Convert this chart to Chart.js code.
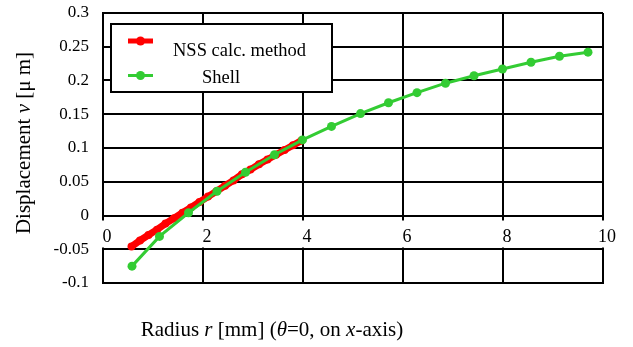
<!DOCTYPE html>
<html>
<head>
<meta charset="utf-8">
<script src="https://cdn.jsdelivr.net/npm/chart.js@4/dist/chart.umd.min.js"></script>
<style>
  body { margin: 0; background: #fff; }
  canvas { display: block; }
</style>
</head>
<body>
<canvas id="dispChart" width="633" height="347"></canvas>
<script>
// NSS calc. method (dense red curve)
const nssRadius = [0.57, 0.74, 0.91, 1.08, 1.25, 1.42, 1.59, 1.76, 1.93, 2.10, 2.27,
                   2.44, 2.61, 2.78, 2.95, 3.12, 3.29, 3.46, 3.63, 3.80, 3.97];
const nssDisp = [-0.046, -0.037, -0.029, -0.021, -0.012, -0.004, 0.004, 0.012, 0.020, 0.028, 0.036,
                 0.044, 0.052, 0.061, 0.068, 0.076, 0.083, 0.090, 0.097, 0.104, 0.111];

// Shell (green)
const shellRadius = [0.58, 1.13, 1.71, 2.28, 2.85, 3.43, 3.99, 4.57, 5.15, 5.71,
                     6.28, 6.85, 7.42, 7.99, 8.56, 9.13, 9.70];
const shellDisp = [-0.075, -0.031, 0.004, 0.036, 0.064, 0.090, 0.112, 0.132, 0.151, 0.167,
                   0.182, 0.196, 0.207, 0.217, 0.227, 0.236, 0.242];

const xTicks = [0, 2, 4, 6, 8, 10];
const legendLabels = ['NSS calc. method', 'Shell'];

const serif = '"Liberation Serif", "Times New Roman", serif';

function toPoints(xs, ys) {
  return xs.map((x, i) => ({ x: x, y: ys[i] }));
}

// x tick labels sit just under the y=0 line, with a white box behind
const xLabelPlugin = {
  id: 'xLabels',
  beforeDatasetsDraw(chart) {
    const ctx = chart.ctx;
    const xs = chart.scales.x, ys = chart.scales.y;
    const y0 = ys.getPixelForValue(0);
    ctx.save();
    ctx.font = '18px ' + serif;
    ctx.textAlign = 'center';
    ctx.textBaseline = 'middle';
    xTicks.forEach(v => {
      const px = xs.getPixelForValue(v) + 4;
      const txt = String(v);
      const w = ctx.measureText(txt).width;
      ctx.fillStyle = '#fff';
      ctx.fillRect(px - w / 2 - 2, y0 + 5, w + 4, 27);
      ctx.fillStyle = '#000';
      ctx.fillText(txt, px, y0 + 21.5);
    });
    ctx.restore();
  }
};

function drawRich(ctx, parts, size) {
  let total = 0;
  parts.forEach(p => {
    ctx.font = (p[1] ? 'italic ' : '') + size + 'px ' + serif;
    total += ctx.measureText(p[0]).width;
  });
  let x = -total / 2;
  parts.forEach(p => {
    ctx.font = (p[1] ? 'italic ' : '') + size + 'px ' + serif;
    ctx.fillText(p[0], x, 0);
    x += ctx.measureText(p[0]).width;
  });
}

// axis titles and legend box
const annotPlugin = {
  id: 'annot',
  afterDraw(chart) {
    const ctx = chart.ctx;
    ctx.save();
    ctx.fillStyle = '#000';
    ctx.textAlign = 'left';
    ctx.textBaseline = 'middle';

    ctx.save();
    ctx.translate(272, 330);
    drawRich(ctx, [['Radius ', false], ['r', true], [' [mm] (', false], ['θ', true],
                   ['=0, on ', false], ['x', true], ['-axis)', false]], 21);
    ctx.restore();

    ctx.save();
    ctx.translate(24, 143);
    ctx.rotate(-Math.PI / 2);
    drawRich(ctx, [['Displacement ', false], ['v', true], [' [μ m]', false]], 21);
    ctx.restore();

    // legend
    ctx.fillStyle = '#fff';
    ctx.fillRect(111, 24, 221, 68);
    ctx.strokeStyle = '#000';
    ctx.lineWidth = 2;
    ctx.strokeRect(111, 24, 221, 68);

    const rows = [
      { ds: chart.data.datasets[0], y: 41, ty: 51, tx: 173, lw: 5 },
      { ds: chart.data.datasets[1], y: 75.5, ty: 78, tx: 202, lw: 3 }
    ];
    rows.forEach((r, i) => {
      ctx.strokeStyle = r.ds.borderColor;
      ctx.lineWidth = r.lw;
      ctx.beginPath();
      ctx.moveTo(128, r.y);
      ctx.lineTo(153, r.y);
      ctx.stroke();
      ctx.fillStyle = r.ds.borderColor;
      ctx.beginPath();
      ctx.arc(140.5, r.y, 4.5, 0, Math.PI * 2);
      ctx.fill();
      ctx.fillStyle = '#000';
      ctx.font = '18.5px ' + serif;
      ctx.fillText(legendLabels[i], r.tx, r.ty);
    });
    ctx.restore();
  }
};

const ctx = document.getElementById('dispChart');
const dispChart = new Chart(ctx, {
  type: 'scatter',
  data: {
    datasets: [{
      label: legendLabels[0],
      data: toPoints(nssRadius, nssDisp),
      showLine: true,
      borderColor: '#ff0000',
      backgroundColor: '#ff0000',
      borderWidth: 7,
      pointRadius: 4,
      pointBorderWidth: 0,
      order: 1
    }, {
      label: legendLabels[1],
      data: toPoints(shellRadius, shellDisp),
      showLine: true,
      borderColor: '#33cc33',
      backgroundColor: '#33cc33',
      borderWidth: 3,
      pointRadius: 4.5,
      pointBorderWidth: 0,
      order: 0
    }]
  },
  options: {
    responsive: false,
    animation: false,
    layout: { padding: { left: 0, top: 13, right: 30, bottom: 64 } },
    plugins: {
      legend: { display: false },
      tooltip: { enabled: false }
    },
    scales: {
      x: {
        type: 'linear',
        min: 0,
        max: 10,
        ticks: { display: false, stepSize: 2 },
        grid: { color: '#000', lineWidth: 2, drawTicks: false },
        border: { color: '#000', width: 2 },
        afterFit(scale) { scale.height = 0; scale.paddingLeft = 0; scale.paddingRight = 0; }
      },
      y: {
        min: -0.1,
        max: 0.3,
        ticks: {
          stepSize: 0.05,
          color: '#000',
          padding: 14,
          font: { family: serif, size: 17 },
          callback: v => String(parseFloat(v.toFixed(2)))
        },
        grid: { color: '#000', lineWidth: 2, drawTicks: false },
        border: { color: '#000', width: 2 },
        afterFit(scale) { scale.width = 103; scale.paddingTop = 0; scale.paddingBottom = 0; }
      }
    }
  },
  plugins: [xLabelPlugin, annotPlugin]
});
</script>
</body>
</html>
